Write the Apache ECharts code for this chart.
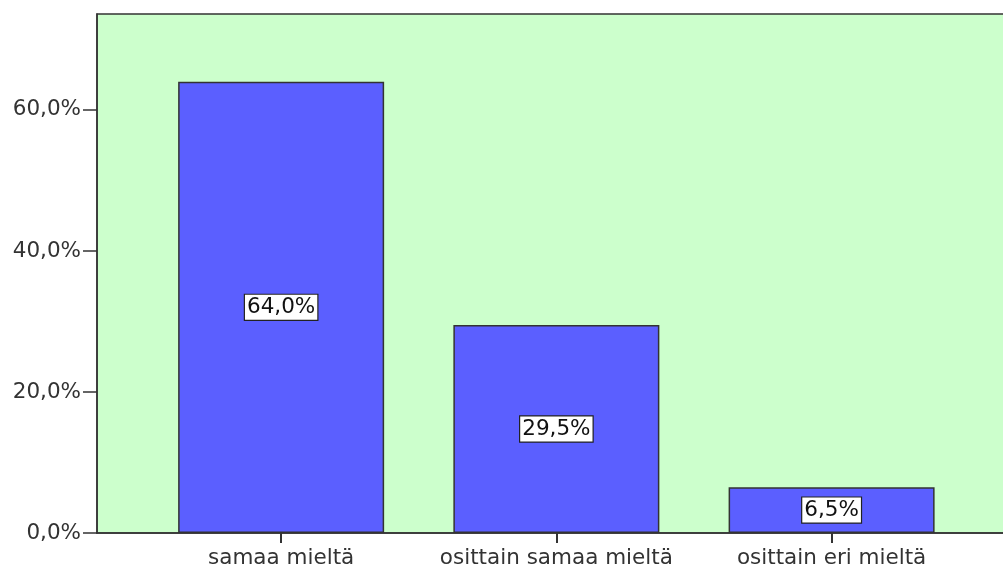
<!DOCTYPE html>
<html><head><meta charset="utf-8">
<script src="https://cdn.jsdelivr.net/npm/echarts@6/dist/echarts.min.js"></script>
<style>html,body{margin:0;padding:0;background:#fff}#c{width:1003px;height:564px}</style>
</head><body><div id="c"></div>
<script>
const categories = ['samaa mieltä', 'osittain samaa mieltä', 'osittain eri mieltä'];
const values = [64.0, 29.5, 6.5];
const yTicks = [0, 20, 40, 60];

const fmt = v => v.toFixed(1).replace('.', ',') + '%';
const chart = echarts.init(document.getElementById('c'), null, {renderer: 'canvas'});
const font = 'DejaVu Sans';
chart.setOption({
  animation: false,
  backgroundColor: '#ffffff',
  grid: {left: 97, top: 14, bottom: 31, right: -2, containLabel: false, outerBoundsMode: 'none',
         show: true, backgroundColor: '#ccffcc', borderColor: '#333', borderWidth: 1.5},
  xAxis: {
    type: 'value', min: -0.669, max: 2.63,
    axisLine: {show: true, onZero: false, lineStyle: {color: '#333', width: 1.5}},
    axisTick: {show: true, length: 10, lineStyle: {color: '#333', width: 2}, customValues: [0, 1, 2]},
    axisLabel: {customValues: [0, 1, 2], formatter: v => categories[Math.round(v)] || '', color: '#333', fontFamily: font, fontSize: 21.5, margin: 14},
    splitLine: {show: false}
  },
  yAxis: {
    type: 'value', min: 0, max: 73.6,
    axisLine: {show: true, onZero: false, lineStyle: {color: '#333', width: 1.5}},
    axisTick: {show: true, length: 14, lineStyle: {color: '#333', width: 1.5}, customValues: yTicks},
    axisLabel: {customValues: yTicks, formatter: v => fmt(v), color: '#333', fontFamily: font, fontSize: 21.5, margin: 16},
    splitLine: {show: false}
  },
  series: [{
    type: 'bar',
    data: values.map((v, i) => [i, v]),
    barWidth: 206,
    itemStyle: {color: '#5b5fff', borderColor: '#333', borderWidth: 1.5},
    label: {
      show: true, position: 'inside', formatter: p => fmt(p.value[1]),
      color: '#111', fontFamily: font, fontSize: 21.5,
      backgroundColor: '#fff', borderColor: '#222', borderWidth: 1.2, padding: [2, 2, 1, 2]
    }
  }]
});
</script></body></html>
